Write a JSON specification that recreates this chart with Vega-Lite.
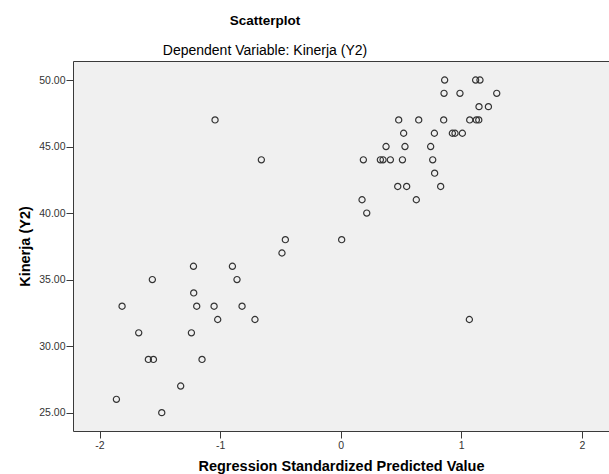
{
  "$schema": "https://vega.github.io/schema/vega-lite/v6.json",
  "autosize": "none",
  "padding": {"left": 73, "top": 61, "right": 0, "bottom": 43},
  "width": 536,
  "height": 370,
  "background": "white",
  "title": {
    "text": "Scatterplot",
    "subtitle": "Dependent Variable: Kinerja (Y2)",
    "anchor": "middle",
    "dx": -76,
    "offset": 3,
    "font": "Liberation Sans",
    "fontSize": 13.5,
    "fontWeight": "bold",
    "color": "#000000",
    "subtitleFont": "Liberation Sans",
    "subtitleFontSize": 14,
    "subtitleColor": "#000000",
    "subtitlePadding": 17
  },
  "config": {
    "view": {"fill": "#f0f0f0", "stroke": null},
    "axis": {
      "grid": false,
      "domainColor": "#3a3a3a",
      "tickColor": "#3a3a3a",
      "tickSize": 7,
      "labelFont": "Liberation Sans",
      "labelFontSize": 10.5,
      "labelColor": "#333333",
      "titleFont": "Liberation Sans",
      "titleFontSize": 14.5,
      "titleFontWeight": "bold",
      "titleColor": "#000000"
    }
  },
  "data": {
    "values": [
      {"pred": 0.862, "kinerja": 50}, {"pred": 1.119, "kinerja": 50}, {"pred": 1.155, "kinerja": 50},
      {"pred": 0.857, "kinerja": 49}, {"pred": 0.989, "kinerja": 49}, {"pred": 1.294, "kinerja": 49},
      {"pred": 1.147, "kinerja": 48}, {"pred": 1.225, "kinerja": 48},
      {"pred": 0.481, "kinerja": 47}, {"pred": 0.647, "kinerja": 47}, {"pred": 0.854, "kinerja": 47},
      {"pred": 1.070, "kinerja": 47}, {"pred": 1.125, "kinerja": 47}, {"pred": 1.145, "kinerja": 47},
      {"pred": 0.522, "kinerja": 46}, {"pred": 0.777, "kinerja": 46}, {"pred": 0.926, "kinerja": 46},
      {"pred": 0.948, "kinerja": 46}, {"pred": 1.009, "kinerja": 46},
      {"pred": 0.376, "kinerja": 45}, {"pred": 0.533, "kinerja": 45}, {"pred": 0.746, "kinerja": 45},
      {"pred": 0.188, "kinerja": 44}, {"pred": 0.329, "kinerja": 44}, {"pred": 0.351, "kinerja": 44},
      {"pred": 0.412, "kinerja": 44}, {"pred": 0.512, "kinerja": 44}, {"pred": 0.763, "kinerja": 44},
      {"pred": 0.779, "kinerja": 43},
      {"pred": 0.473, "kinerja": 42}, {"pred": 0.547, "kinerja": 42}, {"pred": 0.829, "kinerja": 42},
      {"pred": 0.177, "kinerja": 41}, {"pred": 0.627, "kinerja": 41},
      {"pred": 0.216, "kinerja": 40},
      {"pred": 0.008, "kinerja": 38},
      {"pred": -1.042, "kinerja": 47},
      {"pred": -0.658, "kinerja": 44},
      {"pred": -0.459, "kinerja": 38},
      {"pred": -0.487, "kinerja": 37},
      {"pred": 1.067, "kinerja": 32},
      {"pred": -1.221, "kinerja": 36}, {"pred": -0.898, "kinerja": 36},
      {"pred": -1.562, "kinerja": 35}, {"pred": -0.860, "kinerja": 35},
      {"pred": -1.219, "kinerja": 34},
      {"pred": -1.813, "kinerja": 33}, {"pred": -1.194, "kinerja": 33}, {"pred": -1.050, "kinerja": 33}, {"pred": -0.818, "kinerja": 33},
      {"pred": -1.020, "kinerja": 32}, {"pred": -0.711, "kinerja": 32},
      {"pred": -1.675, "kinerja": 31}, {"pred": -1.238, "kinerja": 31},
      {"pred": -1.595, "kinerja": 29}, {"pred": -1.553, "kinerja": 29}, {"pred": -1.150, "kinerja": 29},
      {"pred": -1.327, "kinerja": 27},
      {"pred": -1.860, "kinerja": 26},
      {"pred": -1.484, "kinerja": 25}
    ]
  },
  "resolve": {"axis": {"x": "independent"}},
  "layer": [
    {
      "mark": {"type": "point", "shape": "circle", "filled": false, "size": 38, "stroke": "#333333", "strokeWidth": 1.2, "opacity": 1},
      "encoding": {
        "x": {
          "field": "pred",
          "type": "quantitative",
          "scale": {"domain": [-2.22, 2.225], "nice": false, "zero": false},
          "axis": {"orient": "bottom", "title": "Regression Standardized Predicted Value", "values": [-2, -1, 0, 1, 2], "labelExpr": "datum.value < 0 ? '-' + abs(datum.value) : '' + datum.value", "labelPadding": 2, "titlePadding": 9}
        },
        "y": {
          "field": "kinerja",
          "type": "quantitative",
          "scale": {"domain": [23.62, 51.43], "nice": false, "zero": false},
          "axis": {"title": "Kinerja (Y2)", "values": [25, 30, 35, 40, 45, 50], "format": ".2f", "labelPadding": 1, "titlePadding": 6}
        }
      }
    },
    {
      "mark": {"type": "point", "opacity": 0},
      "encoding": {
        "x": {
          "field": "pred",
          "type": "quantitative",
          "axis": {"orient": "top", "title": null, "labels": false, "ticks": false, "domain": true, "values": []}
        },
        "y": {"field": "kinerja", "type": "quantitative"}
      }
    }
  ]
}
